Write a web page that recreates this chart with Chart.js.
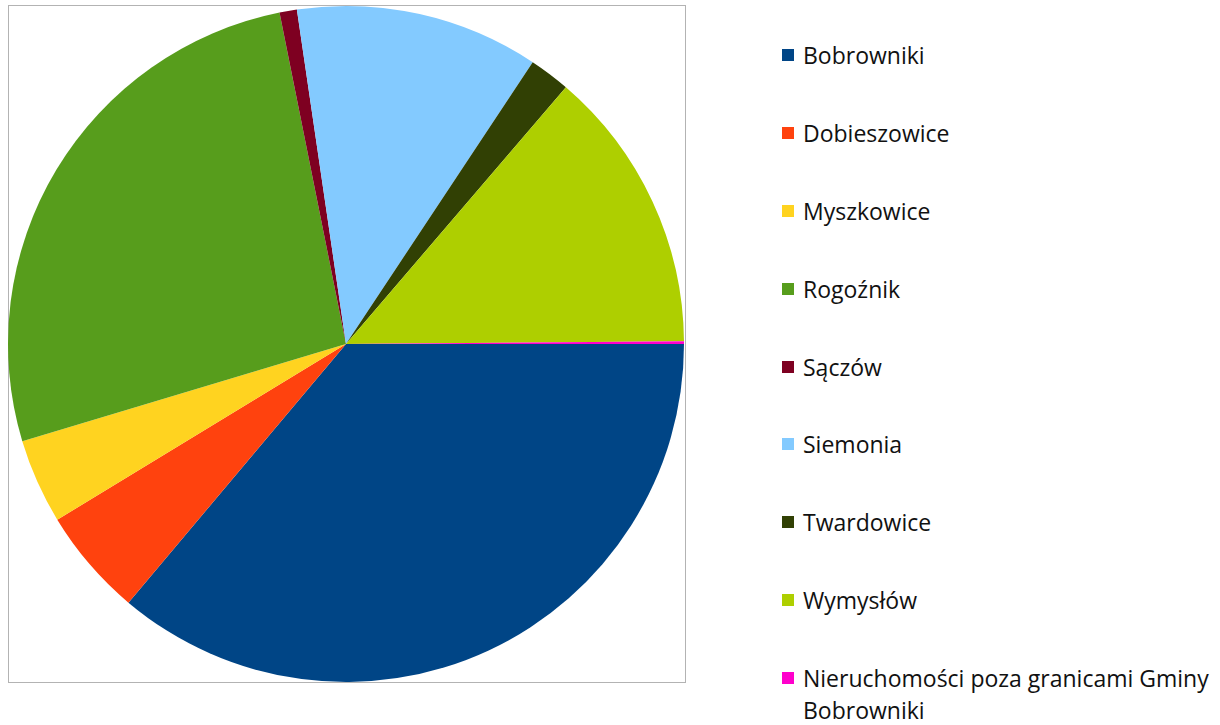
<!DOCTYPE html>
<html>
<head>
<meta charset="utf-8">
<script src="https://cdn.jsdelivr.net/npm/chart.js@4"></script>
<style>
  body { margin: 0; background: #fff; width: 1220px; height: 725px; overflow: hidden; position: relative; }
  #frame { position: absolute; left: 8px; top: 5px; width: 676px; height: 676px; border: 1px solid #b3b3b3; }
  #pieWrap { position: absolute; left: 0; top: 0; width: 692px; height: 690px; }
  #legend { position: absolute; left: 782px; top: 0; font-family: 'Open Sans', 'Liberation Sans', sans-serif; font-size: 23px; color: #111; }
  .item { position: absolute; left: 0; width: 440px; display: flex; align-items: flex-start; line-height: 32px; }
  .sw { width: 12px; height: 12px; margin-top: 10px; margin-right: 9px; flex: none; }
</style>
</head>
<body>
<div id="frame"></div>
<div id="pieWrap"><canvas id="pie" width="692" height="690"></canvas></div>
<div id="legend"></div>
<script>
// share of area by locality (%)
const labels = ['Bobrowniki', 'Dobieszowice', 'Myszkowice', 'Rogoźnik', 'Sączów', 'Siemonia', 'Twardowice', 'Wymysłów', 'Nieruchomości poza granicami Gminy Bobrowniki'];
const values = [36.14, 5.17, 4.06, 26.5, 0.83, 11.64, 1.96, 13.6, 0.13];
const colors = ['#004586', '#ff420e', '#ffd320', '#579d1c', '#7e0021', '#83caff', '#314004', '#aecf00', '#ff00cc'];

// legend (html so text wraps like the original)
const legend = document.getElementById('legend');
const legendTop = [39, 117, 195, 273, 351, 428, 506, 584, 662];
labels.forEach((name, i) => {
  const row = document.createElement('div');
  row.className = 'item';
  row.style.top = legendTop[i] + 'px';
  row.innerHTML = `<span class="sw" style="background:${colors[i]}"></span><span>${name.replace('Gminy ', 'Gminy<br>')}</span>`;
  legend.appendChild(row);
});

new Chart(document.getElementById('pie'), {
  type: 'pie',
  data: {
    labels: labels,
    datasets: [{
      data: values,
      backgroundColor: colors,
      borderWidth: 0
    }]
  },
  options: {
    responsive: false,
    animation: false,
    rotation: 90,
    layout: { padding: { left: 8, right: 8, top: 6, bottom: 8 } },
    plugins: {
      legend: { display: false },
      tooltip: { enabled: false }
    }
  }
});
</script>
</body>
</html>
